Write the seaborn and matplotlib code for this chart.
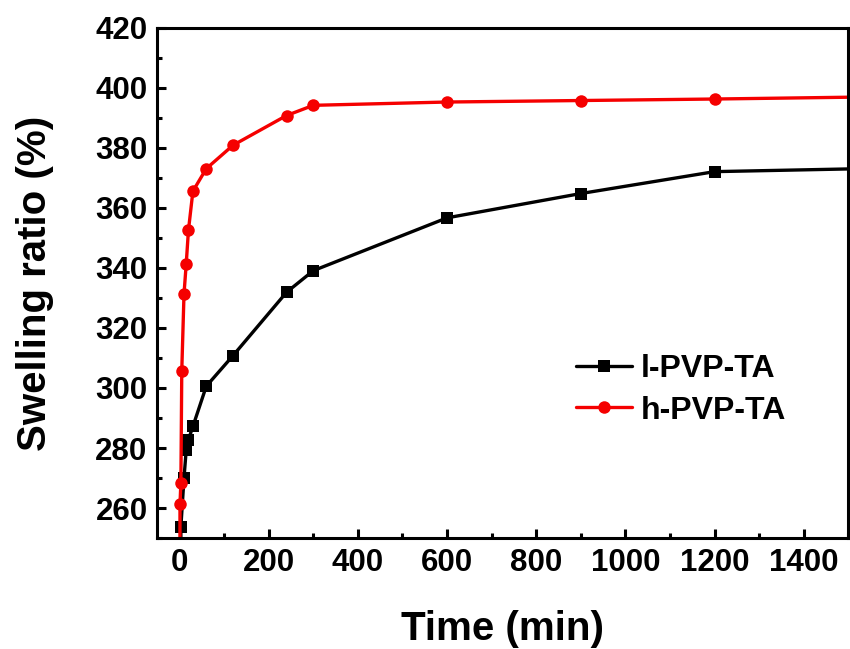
import pandas as pd
import seaborn as sns
import matplotlib.pyplot as plt
from matplotlib.ticker import MultipleLocator

# data (last point lies beyond the x range, line runs to the edge)
l_time = [0, 3, 10, 15, 20, 30, 60, 120, 240, 300, 600, 900, 1200, 1800]
l_ratio = [100, 253.7, 270.0, 279.4, 282.8, 287.2, 300.6, 310.8, 331.9, 339.1, 356.7, 364.8, 372.1, 373.9]

h_time = [0, 1, 3, 5, 10, 15, 20, 30, 60, 120, 240, 300, 600, 900, 1200, 1800]
h_ratio = [100, 261.3, 268.3, 305.7, 331.3, 341.4, 352.6, 365.6, 373.1, 380.9, 390.8, 394.2, 395.3, 395.8, 396.3, 397.5]

df_l = pd.DataFrame({"time": l_time, "ratio": l_ratio})
df_h = pd.DataFrame({"time": h_time, "ratio": h_ratio})

sns.set_style("ticks")
plt.rcParams['font.family'] = ['Liberation Sans', 'DejaVu Sans']
plt.rcParams['font.weight'] = 'bold'
plt.rcParams['text.color'] = 'black'
plt.rcParams['axes.labelcolor'] = 'black'
plt.rcParams['xtick.color'] = 'black'
plt.rcParams['ytick.color'] = 'black'
plt.rcParams['axes.edgecolor'] = 'black'

fig = plt.figure(figsize=(8.5, 6.49), dpi=100)
ax = fig.add_axes([0.185, 0.171, 0.813, 0.786])

sns.lineplot(data=df_l, x="time", y="ratio", ax=ax, color="black", marker="s",
             markersize=8.5, markeredgewidth=0, linewidth=2.4, label="l-PVP-TA")
sns.lineplot(data=df_h, x="time", y="ratio", ax=ax, color="#f50000", marker="o",
             markersize=9, markeredgewidth=0, linewidth=2.4, label="h-PVP-TA")

ax.set_xlim(-50, 1500)
ax.set_ylim(250, 420)
ax.xaxis.set_major_locator(MultipleLocator(200))
ax.xaxis.set_minor_locator(MultipleLocator(100))
ax.yaxis.set_major_locator(MultipleLocator(20))
ax.yaxis.set_minor_locator(MultipleLocator(10))
ax.tick_params(which='both', direction='in', width=2.2, labelsize=22.5)
ax.tick_params(which='major', length=6.5, pad=7)
ax.tick_params(which='minor', length=3.6)
for lab in ax.get_xticklabels() + ax.get_yticklabels():
    lab.set_fontweight('bold')
for s in ax.spines.values():
    s.set_linewidth(2.2)
    s.set_visible(True)

ax.set_xlabel("Time (min)", fontsize=29, fontweight='bold', labelpad=23)
ax.set_ylabel("Swelling ratio (%)", fontsize=29, fontweight='bold', labelpad=30)

leg = ax.legend(loc='center left', bbox_to_anchor=(0.565, 0.29), frameon=False,
                fontsize=23, handlelength=1.75, handletextpad=0.25, labelspacing=0.35)
for t in leg.get_texts():
    t.set_fontweight('bold')

fig.savefig("out.png", dpi=100)
